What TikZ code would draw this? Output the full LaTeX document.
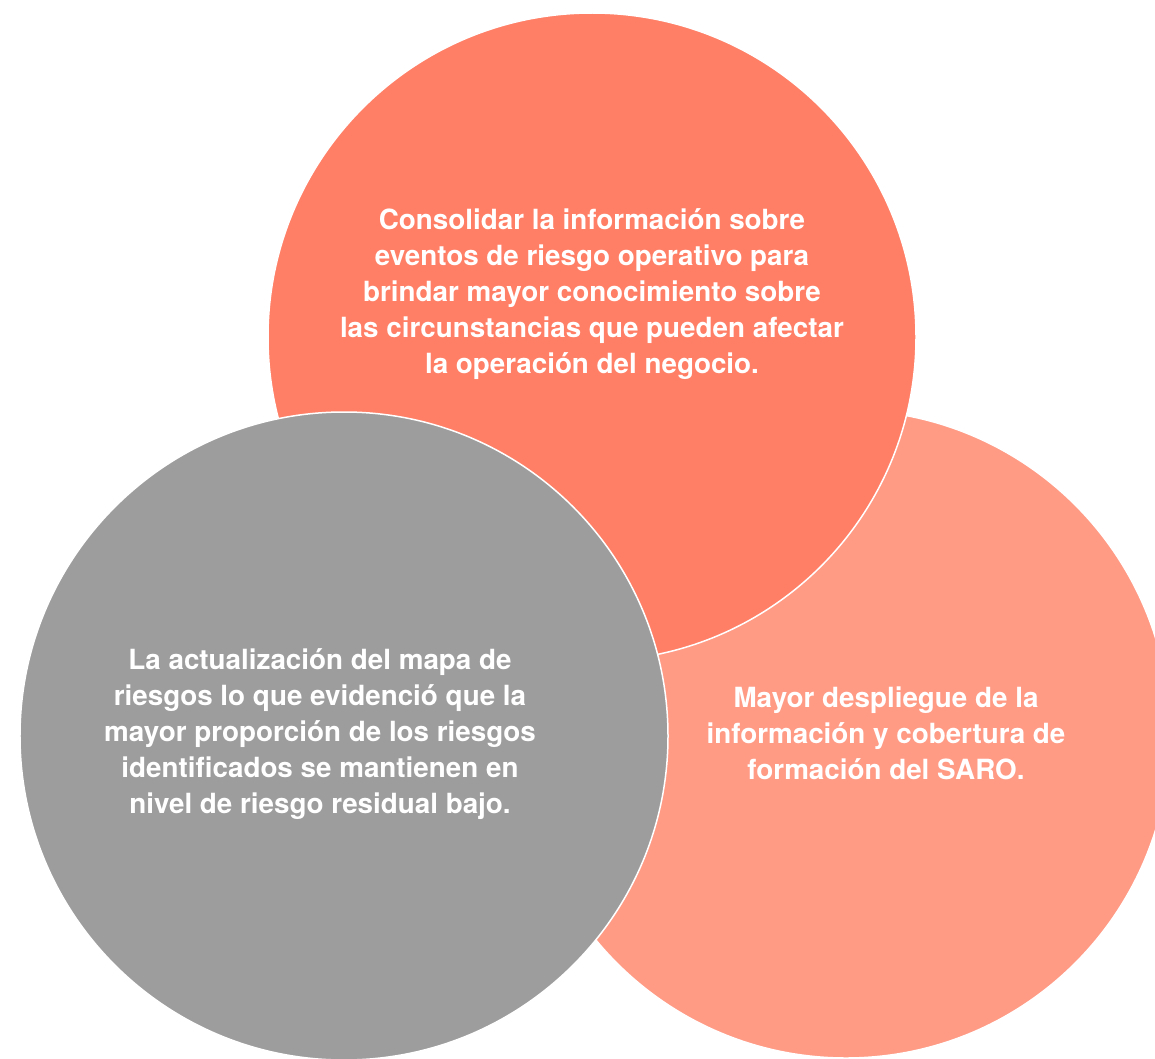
\documentclass[tikz,border=0pt]{standalone}
\usepackage{fontspec}
\setmainfont{TeX Gyre Heros}
\definecolor{coral}{HTML}{FF7F66}
\definecolor{salmon}{HTML}{FF9A85}
\definecolor{greyc}{HTML}{9D9D9D}
\begin{document}
\begin{tikzpicture}[x=1bp,y=-1bp,
  blob/.style={circle, minimum size=648bp, inner sep=0pt, draw=white, line width=1.5bp},
  label/.style={text=white, align=center, font=\fontsize{27.8bp}{36bp}\selectfont\bfseries, inner sep=0pt}]
\useasboundingbox (0,0) rectangle (1155,1059);
\begin{scope}
\clip (0,0) rectangle (1155,1059);
\node[blob, fill=salmon] (right) at (846,734) {};
\node[blob, fill=coral] (top) at (592,337) {};
\node[blob, fill=greyc] (left) at (344,736) {};
\end{scope}
\node[label] (ttop) at (592,294) {Consolidar la información sobre\\eventos de riesgo operativo para\\brindar mayor conocimiento sobre\\las circunstancias que pueden afectar\\la operación del negocio.};
\node[label] (tleft) at (320,734) {La actualización del mapa de\\riesgos lo que evidenció que la\\mayor proporción de los riesgos\\identificados se mantienen en\\nivel de riesgo residual bajo.};
\node[label] (tright) at (886,733) {Mayor despliegue de la\\información y cobertura de\\formación del SARO.};
\end{tikzpicture}
\end{document}
